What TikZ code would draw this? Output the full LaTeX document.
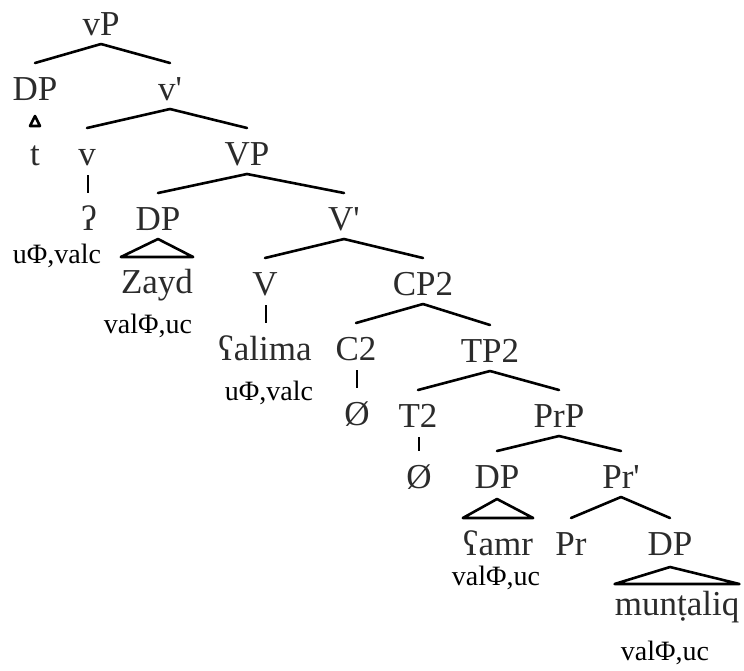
\documentclass[tikz,border=0pt]{standalone}
\usepackage{fontspec}
\usetikzlibrary{calc}
\newfontfamily\treefont{Liberation Serif}
\definecolor{labelink}{HTML}{2B2B2B}
\tikzset{
  lab/.style={anchor=base, inner sep=0pt, text=labelink,
    font=\treefont\fontsize{35}{35}\selectfont},
  feat/.style={anchor=base, inner sep=0pt, text=black,
    font=\treefont\fontsize{28}{28}\selectfont},
  branch/.style={line width=2.6pt, draw=black, line cap=round, line join=round},
  stem/.style={line width=2pt, draw=black},
}
% a tree edge from just under the parent label to just above the child label
\newcommand\treeedge[2]{\draw[branch] ($(#1.base)+(0,-9pt)$) -- ($(#2.base)+(0,37pt)$);}
% a single straight stem down from a head to its word
\newcommand\treestem[2]{\draw[stem] ($(#1.base)+(1pt,-10pt)$) -- ($(#1.base|-#2.base)+(1pt,37pt)$);}
% a triangle covering the child phrase
\newcommand\treeroof[4]{\draw[branch] ($(#1.base)+(0,-#3)$) -- ($(#2.west|-#2.base)+(0,#4)$) -- ($(#2.east|-#2.base)+(0,#4)$) -- cycle;}
\begin{document}
\begin{tikzpicture}[x=1pt, y=-1pt]
\useasboundingbox (0,0) rectangle (744,670);

\node[lab] (vP)   at (101,35)  {vP};
\node[lab] (DPa)  at (35,100)  {DP};
\node[lab] (vbar) at (170,100) {v'};
\node[lab] (tr)   at (35,165)  {t};
\node[lab] (vh)   at (87,165)  {v};
\node[lab] (VP)   at (247,165) {VP};
\node[lab] (glot) at (89,230)  {ʔ};
\node[lab] (DPb)  at (158,230) {DP};
\node[lab] (Vbar) at (344,230) {V'};
\node[lab] (zayd) at (157,293) {Zayd};
\node[lab] (Vh)   at (265,295) {V};
\node[lab] (CP)   at (423,295) {CP2};
\node[lab] (alim) at (265,360) {ʕalima};
\node[lab] (Ch)   at (356,360) {C2};
\node[lab] (TP)   at (490,362) {TP2};
\node[lab] (nullC) at (357,425) {Ø};
\node[lab] (Th)   at (418,427) {T2};
\node[lab] (PrP)  at (559,427) {PrP};
\node[lab] (nullT) at (419,488) {Ø};
\node[lab] (DPc)  at (497,488) {DP};
\node[lab] (Prbar) at (621,488) {Pr'};
\node[lab] (amr)  at (498,555) {ʕamr};
\node[lab] (Prh)  at (571,555) {Pr};
\node[lab] (DPd)  at (670,555) {DP};
\node[lab] (munt) at (677,615) {munṭaliq};

\node[feat] (fa) at (57,263)  {uΦ,valc};
\node[feat] (fb) at (148,333) {valΦ,uc};
\node[feat] (fc) at (269,400) {uΦ,valc};
\node[feat] (fd) at (496,585) {valΦ,uc};
\node[feat] (fe) at (665,660) {valΦ,uc};

\treeedge{vP}{DPa}
\treeedge{vP}{vbar}
\treeedge{vbar}{vh}
\treeedge{vbar}{VP}
\treestem{vh}{glot}
\treeedge{VP}{DPb}
\treeedge{VP}{Vbar}
\treeedge{Vbar}{Vh}
\treeedge{Vbar}{CP}
\treestem{Vh}{alim}
\treeedge{CP}{Ch}
\treeedge{CP}{TP}
\treestem{Ch}{nullC}
\treeedge{TP}{Th}
\treeedge{TP}{PrP}
\treestem{Th}{nullT}
\treeedge{PrP}{DPc}
\treeedge{PrP}{Prbar}
\treeedge{Prbar}{Prh}
\treeedge{Prbar}{DPd}

\treeroof{DPb}{zayd}{9pt}{36pt}
\treeroof{DPc}{amr}{11pt}{37pt}
\treeroof{DPd}{munt}{12pt}{31pt}
% the trace's small roof
\draw[branch, line width=2.6pt] ($(DPa.base)+(0,-16pt)$) -- ($(tr.base)+(-5pt,39pt)$) -- ($(tr.base)+(5pt,39pt)$) -- cycle;
\end{tikzpicture}
\end{document}
